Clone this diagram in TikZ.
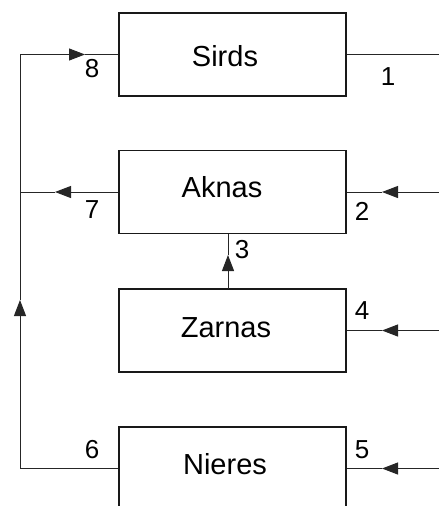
\documentclass[tikz,border=0pt]{standalone}
\usepackage{fontspec}
\setmainfont{Liberation Sans}
\usetikzlibrary{arrows.meta}
\begin{document}
\begin{tikzpicture}[x=1pt,y=-1pt,
  blk/.style={draw=black!90,line width=1.2pt,minimum width=227pt,minimum height=83pt,inner sep=0pt},
  txt/.style={inner sep=0pt,font=\fontsize{29}{31}\selectfont},
  ln/.style={draw=black!85,line width=1pt},
  arr/.style={ln,-{Triangle[length=16pt,width=12pt]}},
  lbl/.style={inner sep=0pt,font=\fontsize{26}{28}\selectfont}]
\useasboundingbox (0,0) rectangle (439,506);
\clip (0,0) rectangle (439,506);
\node[blk] (S) at (232.5,54.5) {};
\node[blk] (A) at (232.5,192) {};
\node[blk] (Z) at (232.5,330.5) {};
\node[blk] (N) at (232.5,468.5) {};
\node[txt] (St) at (225,56) {Sirds};
\node[txt] (At) at (222,187.5) {Aknas};
\node[txt] (Zt) at (226,327.5) {Zarnas};
\node[txt] (Nt) at (225,464) {Nieres};
% left loop
\coordinate (L8) at (20,54.5);
\coordinate (T8) at (85,54.5);
\coordinate (L7) at (20,192);
\coordinate (T7) at (55,192);
\coordinate (L6) at (20,468.5);
\coordinate (TU) at (20,300);
\draw[ln] (N.west) -- (L6);
\draw[arr] (L6) -- (TU);
\draw[ln] (TU) -- (L8);
\draw[arr] (L8) -- (T8);
\draw[ln] (T8) -- (S.west);
\draw[arr] (A.west) -- (T7);
\draw[ln] (T7) -- (L7);
% arrow 3
\coordinate (B3) at (228,289);
\coordinate (T3) at (228,255);
\coordinate (E3) at (228,233.5);
\draw[arr] (B3) -- (T3);
\draw[ln] (T3) -- (E3);
% right side
\coordinate (R1) at (439,54.5);
\draw[ln] (S.east) -- (R1);
\coordinate (R2) at (439,192);
\coordinate (T2) at (382,192);
\draw[arr] (R2) -- (T2);
\draw[ln] (T2) -- (A.east);
\coordinate (R4) at (439,330.5);
\coordinate (T4) at (382,330.5);
\draw[arr] (R4) -- (T4);
\draw[ln] (T4) -- (Z.east);
\coordinate (R5) at (439,468.5);
\coordinate (T5) at (382,468.5);
\draw[arr] (R5) -- (T5);
\draw[ln] (T5) -- (N.east);
% labels
\node[lbl] (n8) at (92,69) {8};
\node[lbl] (n1) at (388,77) {1};
\node[lbl] (n7) at (92,210) {7};
\node[lbl] (n2) at (362,211) {2};
\node[lbl] (n3) at (242,250) {3};
\node[lbl] (n4) at (362,311) {4};
\node[lbl] (n5) at (362,450) {5};
\node[lbl] (n6) at (92,450) {6};
\end{tikzpicture}
\end{document}
